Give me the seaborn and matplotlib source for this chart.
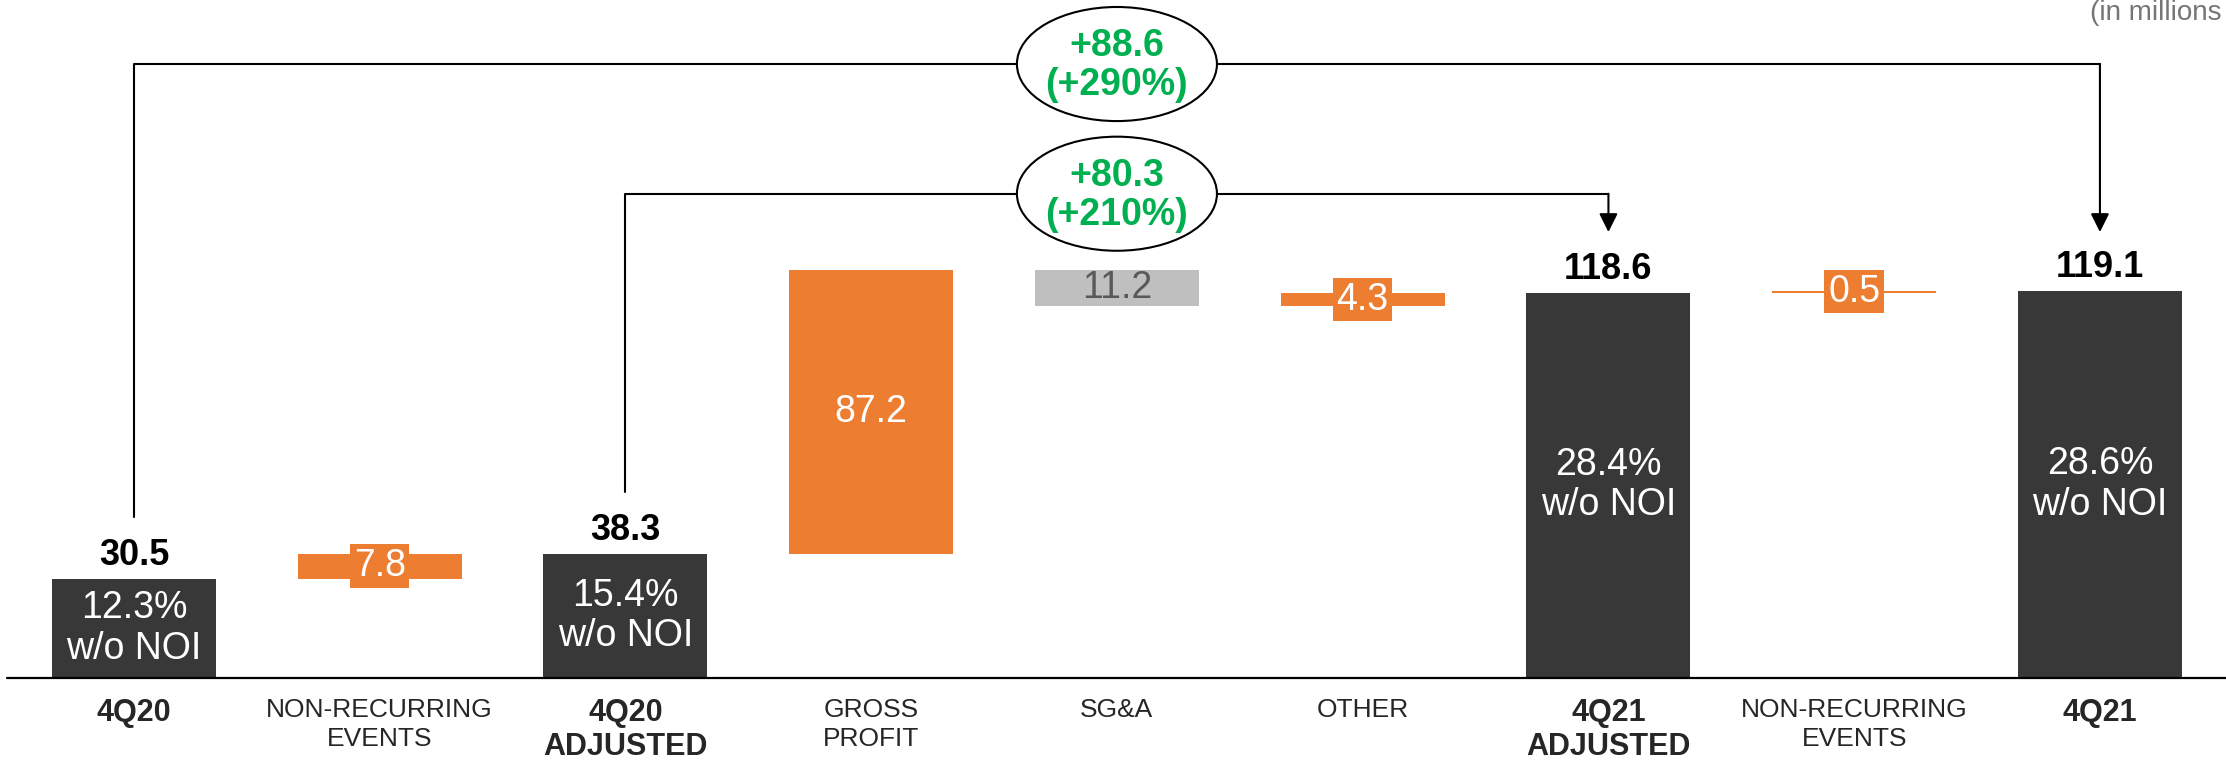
import matplotlib.pyplot as plt
import pandas as pd
import seaborn as sns
from matplotlib.patches import Ellipse

# Данные моста EBITDA (в миллионах)
steps = ["4Q20", "NON-RECURRING\nEVENTS", "4Q20\nADJUSTED", "GROSS\nPROFIT", "SG&A",
         "OTHER", "4Q21\nADJUSTED", "NON-RECURRING\nEVENTS", "4Q21"]
kinds = ["total", "up", "total", "up", "down", "up", "total", "up", "total"]
values = [30.5, 7.8, 38.3, 87.2, 11.2, 4.3, 118.6, 0.5, 119.1]
value_labels = ["30.5", "7.8", "38.3", "87.2", "11.2", "4.3", "118.6", "0.5", "119.1"]
margins = ["12.3%\nw/o NOI", "", "15.4%\nw/o NOI", "", "", "", "28.4%\nw/o NOI", "", "28.6%\nw/o NOI"]
bubble_texts = ["+88.6\n(+290%)", "+80.3\n(+210%)"]
bubble_from = [0, 2]
bubble_to = [8, 6]
units_note = "(in millions"

colors = {"total": "#383838", "up": "#ED7D31", "down": "#BFBFBF"}
green = "#00B050"

sns.set_style("white")
plt.rcParams["font.family"] = ["Liberation Sans", "DejaVu Sans"]

# Считаем основания и высоты столбцов
level = 0
bottoms, heights = [], []
for k, v in zip(kinds, values):
    if k == "total":
        bottoms.append(0)
        level = v
    elif k == "up":
        bottoms.append(level)
        level += v
    else:
        level -= v
        bottoms.append(level)
    heights.append(v)

df = pd.DataFrame({"key": [f"s{i}" for i in range(len(steps))],
                   "height": heights, "bottom": bottoms})

fig = plt.figure(figsize=(22.26, 7.64), dpi=100)
ax = fig.add_axes([0, 0, 1, 1])

sns.barplot(data=df, x="key", y="height", bottom=df["bottom"].to_numpy(),
            width=0.667, color="#383838", saturation=1, errorbar=None, ax=ax)
for patch, k in zip(ax.patches, kinds):
    patch.set_facecolor(colors[k])
    patch.set_edgecolor("none")

ax.set_xlim(-0.545, 8.513)
ax.set_ylim(-26.46, 208.6)
ax.axis("off")

# Базовая линия
ax.axhline(0, xmin=0.003, xmax=1, color="black", lw=1.6, zorder=3)

for i, (k, v, lab) in enumerate(zip(kinds, values, value_labels)):
    mid = bottoms[i] + heights[i] / 2
    if k == "total":
        ax.annotate(lab, (i, v), xytext=(0, 10), textcoords="offset points",
                    ha="center", va="baseline", fontsize=26, fontweight="bold", color="black")
        ax.text(i, v / 2, margins[i], ha="center", va="center", fontsize=27,
                color="white", linespacing=1.15)
    elif k == "up":
        ax.text(i, mid, lab, ha="center", va="center", fontsize=27, color="white",
                bbox=dict(boxstyle="square,pad=0.1", fc=colors[k], ec="none"))
    else:
        ax.text(i, mid, lab, ha="center", va="center", fontsize=27, color="#595959")

    # Подписи категорий
    ax.text(i, -6.1, steps[i], ha="center", va="top",
            fontsize=22 if k == "total" else 19,
            fontweight="bold" if k == "total" else "normal",
            linespacing=1.2 if k == "total" else 1.25)

# Скобки со стрелками и пузырями
bracket_y = [188.9, 149.0]
tip_y = 137.2
for text, a, b, yh in zip(bubble_texts, bubble_from, bubble_to, bracket_y):
    y0 = values[a] + 19
    ax.plot([a, a, b], [y0, yh, yh], color="black", lw=1.5, zorder=4)
    ax.annotate("", xy=(b, tip_y), xytext=(b, yh),
                arrowprops=dict(arrowstyle="-|>", color="black", lw=1.5,
                                mutation_scale=28, shrinkA=0, shrinkB=0), zorder=4)
    ax.add_patch(Ellipse((4, yh), 0.814, 35.1, fc="white", ec="black", lw=1.5, zorder=5))
    ax.text(4, yh - 0.5, text, ha="center", va="center", fontsize=27, fontweight="bold",
            color=green, linespacing=1.1, zorder=6)

# Подпись единиц в правом верхнем углу (как в оригинале, без закрывающей скобки)
ax.text(0.998, 0.983, units_note, transform=ax.transAxes, ha="right", va="center",
        fontsize=20, color="#767676")

fig.savefig("out.png", dpi=100)
plt.close(fig)
